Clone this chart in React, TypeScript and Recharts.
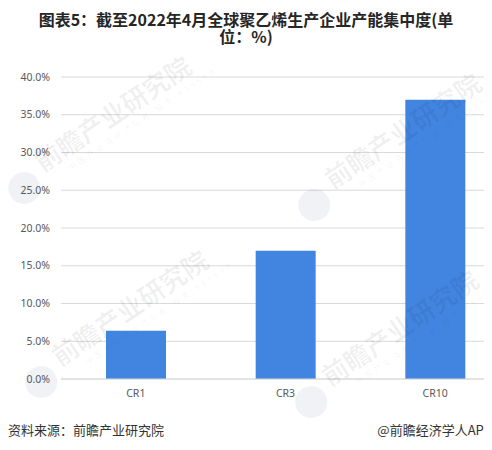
import React from 'react';
import { BarChart, Bar, XAxis, YAxis, CartesianGrid } from 'recharts';

const categories = ['CR1', 'CR3', 'CR10'];
const shares = [6.4, 17.0, 37.0];
const yTicks = [0, 5, 10, 15, 20, 25, 30, 35, 40];

const data = categories.map((name, i) => ({ name, value: shares[i] }));

// faint publisher watermarks (start of text, in page pixels)
const marks = [
    { x: 43, y: 173 },
    { x: 333, y: 190 },
    { x: 60, y: 367 },
    { x: 330, y: 387 },
];

const cjk = '"Noto Sans CJK SC", "Noto Sans", sans-serif';
const tickFont = { fontSize: 10.5, fill: '#595959', fontFamily: '"Noto Sans", sans-serif' };

const Watermarks = () => (
    <svg width={492} height={450} style={{ position: 'absolute', top: 0, left: 0, pointerEvents: 'none' }}>
        {marks.map((m, i) => (
            <g key={i} transform={`translate(${m.x},${m.y}) rotate(-34)`} fontFamily={cjk}>
                <circle cx={-24} cy={2} r={16} fill="#4a5a7a" fillOpacity={0.08} />
                <text x={0} y={0} fontSize={26} fontWeight={700} fill="#000" fillOpacity={0.06}>前瞻产业研究院</text>
                <text x={24} y={14} fontSize={8} letterSpacing={3} fill="#000" fillOpacity={0.06}>中国产业咨询领导者(股票:839599)</text>
            </g>
        ))}
    </svg>
);

export default function App() {
    return (
        <div style={{ margin: -8, width: 492, height: 450, position: 'relative', overflow: 'hidden', background: '#fff', fontFamily: cjk }}>
            {/* title, wraps onto two lines like the original */}
            <div style={{ position: 'absolute', top: 11, left: 0, width: 492, textAlign: 'center', fontSize: 16, fontWeight: 700, lineHeight: '17px', color: '#262626' }}>
                图表5：截至2022年4月全球聚乙烯生产企业产能集中度(单<br />位：%)
            </div>

            <div style={{ position: 'absolute', top: 0, left: 0 }}>
                <BarChart width={510} height={409} data={data} margin={{ top: 77, right: 0, bottom: 0, left: 0 }}>
                    <CartesianGrid vertical={false} stroke="#d9d9d9" />
                    <XAxis
                        dataKey="name"
                        axisLine={{ stroke: '#d9d9d9' }}
                        tickLine={false}
                        tickMargin={5}
                        tick={tickFont}
                    />
                    <YAxis
                        width={61}
                        domain={[0, 40]}
                        ticks={yTicks}
                        axisLine={false}
                        tickLine={false}
                        tickMargin={5}
                        tickFormatter={(v: number) => v.toFixed(1) + '%'}
                        tick={tickFont}
                    />
                    <Bar dataKey="value" fill="#4285e0" barSize={60} isAnimationActive={false} />
                </BarChart>
            </div>

            <Watermarks />

            <div style={{ position: 'absolute', left: 8, top: 420, fontSize: 13, color: '#333', whiteSpace: 'nowrap' }}>资料来源：前瞻产业研究院</div>
            <div style={{ position: 'absolute', right: 0, top: 420, fontSize: 13, color: '#333', whiteSpace: 'nowrap' }}>@前瞻经济学人APP</div>
        </div>
    );
}
